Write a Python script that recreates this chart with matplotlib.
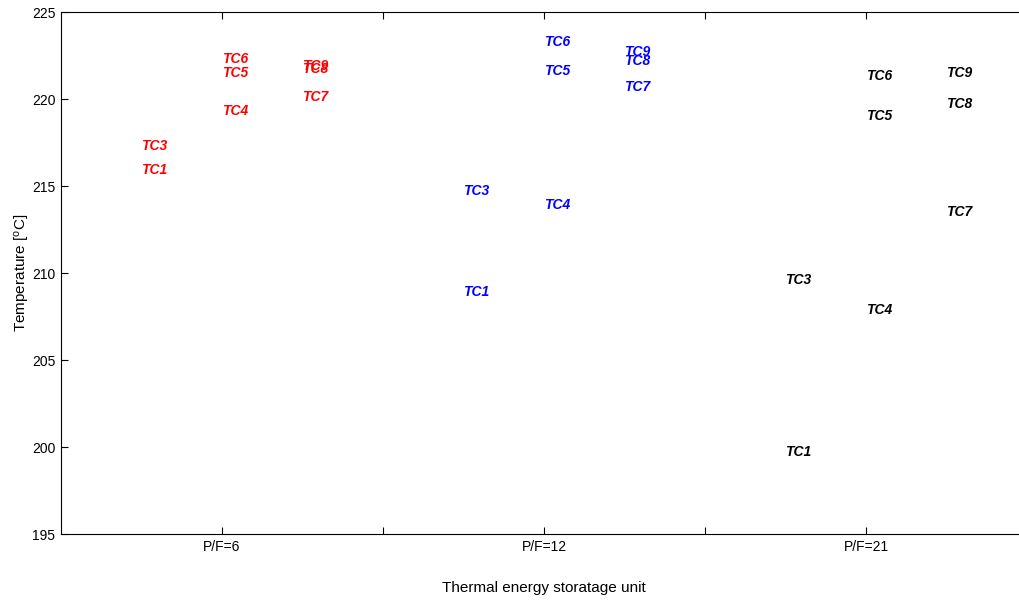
import matplotlib.pyplot as plt

plt.rcParams['font.family'] = ['Liberation Sans', 'DejaVu Sans']
plt.rcParams['mathtext.default'] = 'regular'

# P/F ratio groups and their colours
groups = ['P/F=6', 'P/F=12', 'P/F=21']
colors = ['red', 'blue', 'black']

# thermocouple labels and where they sit inside a group
sensors = ['TC1', 'TC3', 'TC4', 'TC5', 'TC6', 'TC7', 'TC8', 'TC9']
offsets = [-0.25, -0.25, 0, 0, 0, 0.25, 0.25, 0.25]

# temperatures [oC] per group, same order as sensors
temp_pf6 = [215.9, 217.3, 219.3, 221.5, 222.3, 220.1, 221.7, 221.9]
temp_pf12 = [208.9, 214.7, 213.9, 221.6, 223.3, 220.7, 222.2, 222.7]
temp_pf21 = [199.7, 209.6, 207.9, 219.0, 221.3, 213.5, 219.7, 221.5]
temps = [temp_pf6, temp_pf12, temp_pf21]

fig = plt.figure(figsize=(10.2, 6), dpi=100)
ax = fig.add_axes([61 / 1020, 66 / 600, 966 / 1020, 522 / 600])

for i, (vals, c) in enumerate(zip(temps, colors)):
    for name, off, v in zip(sensors, offsets, vals):
        ax.text(i + 1 + off, v, name, color=c, fontsize=10,
                fontweight='bold', fontstyle='italic',
                ha='left', va='center')

ax.set_xlim(0.5, 3.5)
ax.set_ylim(195, 225)
ax.set_xticks([1, 2, 3])
ax.set_xticklabels(groups)
ax.set_xticks([1.5, 2.5], minor=True)
ax.set_yticks(range(195, 226, 5))
ax.tick_params(which='both', direction='in', top=True, right=True,
               length=5, width=0.8, labelsize=10, pad=4)
ax.set_xlabel('Thermal energy storatage unit', fontsize=11, labelpad=20)
ax.set_ylabel('Temperature [$^{o}$C]', fontsize=11, labelpad=0)

fig.savefig('out.png', dpi=100)
